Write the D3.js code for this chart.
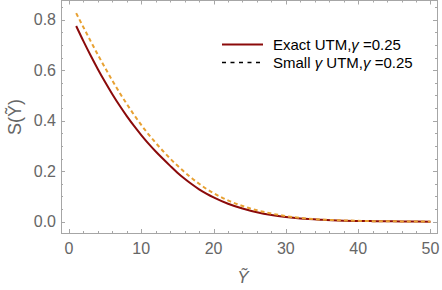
<!DOCTYPE html>
<html>
<head>
<meta charset="utf-8">
<script src="https://cdn.jsdelivr.net/npm/d3@7"></script>
<style>
  body { margin: 0; background: #fff; }
  text { font-family: "Liberation Sans", Arial, sans-serif; }
</style>
</head>
<body>
<div id="chart"></div>
<script>
// values
var yTilde = [1, 2, 3, 4, 5, 6, 7, 8, 9, 10, 11, 12, 13, 14, 15, 16, 17, 18, 19, 20, 22, 24, 26, 28, 30, 32, 35, 38, 42, 46, 50];
var exactUTM = [0.775, 0.715, 0.658, 0.604, 0.553, 0.505, 0.46, 0.418, 0.379, 0.343, 0.309, 0.278, 0.249, 0.221, 0.194, 0.17, 0.148, 0.128, 0.111, 0.096, 0.071, 0.052, 0.037, 0.026, 0.018, 0.012, 0.007, 0.004, 0.002, 0.001, 0.0];
var smallUTM = [0.826, 0.77, 0.715, 0.661, 0.609, 0.559, 0.511, 0.466, 0.423, 0.383, 0.346, 0.312, 0.28, 0.25, 0.222, 0.196, 0.172, 0.15, 0.13, 0.113, 0.084, 0.062, 0.045, 0.032, 0.022, 0.015, 0.008, 0.005, 0.002, 0.001, 0.0];
var xTicks = [0, 10, 20, 30, 40, 50];
var yTicks = [0, 0.2, 0.4, 0.6, 0.8];
var legendLabels = ["Exact UTM,", "Small "];

var W = 442, H = 290;
var frame = {left: 61, right: 437, top: 0.5, bottom: 233};

var svg = d3.select("#chart").append("svg")
  .attr("width", W)
  .attr("height", H);

var x = d3.scaleLinear().domain([-1.1, 50.9]).range([frame.left, frame.right]);
var y = d3.scaleLinear().domain([-0.045, 0.876]).range([frame.bottom, frame.top]);

var frameColor = "#a6a6a6", labelColor = "#666";

// frame
svg.append("rect")
  .attr("x", frame.left + 0.5)
  .attr("y", frame.top)
  .attr("width", frame.right - frame.left)
  .attr("height", frame.bottom - frame.top + 0.5)
  .attr("fill", "none")
  .attr("stroke", frameColor)
  .attr("stroke-width", 1);

// minor/major ticks on all sides
var xMinor = d3.range(0, 51, 2);
var yMinor = d3.range(0, 0.86, 0.05);

function tickX(vals, len) {
  svg.append("g").selectAll("line.b").data(vals).enter().append("line")
    .attr("x1", function(d) { return Math.round(x(d)) + 0.5; })
    .attr("x2", function(d) { return Math.round(x(d)) + 0.5; })
    .attr("y1", frame.bottom).attr("y2", frame.bottom - len)
    .attr("stroke", frameColor);
  svg.append("g").selectAll("line.t").data(vals).enter().append("line")
    .attr("x1", function(d) { return Math.round(x(d)) + 0.5; })
    .attr("x2", function(d) { return Math.round(x(d)) + 0.5; })
    .attr("y1", frame.top).attr("y2", frame.top + len)
    .attr("stroke", frameColor);
}
function tickY(vals, len) {
  svg.append("g").selectAll("line.l").data(vals).enter().append("line")
    .attr("y1", function(d) { return Math.round(y(d)) + 0.5; })
    .attr("y2", function(d) { return Math.round(y(d)) + 0.5; })
    .attr("x1", frame.left).attr("x2", frame.left + len)
    .attr("stroke", frameColor);
  svg.append("g").selectAll("line.r").data(vals).enter().append("line")
    .attr("y1", function(d) { return Math.round(y(d)) + 0.5; })
    .attr("y2", function(d) { return Math.round(y(d)) + 0.5; })
    .attr("x1", frame.right).attr("x2", frame.right - len)
    .attr("stroke", frameColor);
}
tickX(xMinor, 2);
tickX(xTicks, 4);
tickY(yMinor, 2);
tickY(yTicks, 4);

// tick labels
svg.append("g").selectAll("text").data(xTicks).enter().append("text")
  .attr("x", function(d) { return x(d); })
  .attr("y", 254)
  .attr("text-anchor", "middle")
  .attr("fill", labelColor)
  .style("font-size", "16px")
  .text(function(d) { return d; });

svg.append("g").selectAll("text").data(yTicks).enter().append("text")
  .attr("x", 56)
  .attr("y", function(d) { return y(d); })
  .attr("dy", "0.35em")
  .attr("text-anchor", "end")
  .attr("fill", labelColor)
  .style("font-size", "16px")
  .text(function(d) { return d.toFixed(1); });

// axis titles
svg.append("text")
  .attr("x", 243)
  .attr("y", 283)
  .attr("text-anchor", "middle")
  .attr("fill", labelColor)
  .style("font-size", "17px")
  .style("font-style", "italic")
  .text("\u1EF8");

svg.append("text")
  .attr("text-anchor", "middle")
  .attr("transform", "translate(21,117)rotate(-90)")
  .attr("fill", labelColor)
  .style("font-size", "18px")
  .text("S(\u1EF8)");

// curves
var line = d3.line()
  .x(function(d) { return x(d[0]); })
  .y(function(d) { return y(d[1]); })
  .curve(d3.curveMonotoneX);

svg.append("path")
  .datum(yTilde.map(function(v, i) { return [v, exactUTM[i]]; }))
  .attr("d", line)
  .attr("fill", "none")
  .attr("stroke", "#8b0a0a")
  .attr("stroke-width", 2);

svg.append("path")
  .datum(yTilde.map(function(v, i) { return [v, smallUTM[i]]; }))
  .attr("d", line)
  .attr("fill", "none")
  .attr("stroke", "#e8a132")
  .attr("stroke-width", 2)
  .attr("stroke-dasharray", "4,3");

// legend
var legend = svg.append("g").attr("transform", "translate(222,0)");
legend.append("line")
  .attr("x1", 0).attr("x2", 41).attr("y1", 44.5).attr("y2", 44.5)
  .attr("stroke", "#8b0a0a").attr("stroke-width", 2);
legend.append("line")
  .attr("x1", 0).attr("x2", 41).attr("y1", 62.5).attr("y2", 62.5)
  .attr("stroke", "#000").attr("stroke-width", 1.5)
  .attr("stroke-dasharray", "4,4.5");

var t1 = legend.append("text")
  .attr("x", 51).attr("y", 49.5)
  .attr("fill", "#000").style("font-size", "15px");
t1.append("tspan").text(legendLabels[0]);
t1.append("tspan").style("font-style", "italic").text("\u03B3");
t1.append("tspan").text(" =0.25");

var t2 = legend.append("text")
  .attr("x", 51).attr("y", 67.5)
  .attr("fill", "#000").style("font-size", "15px");
t2.append("tspan").text(legendLabels[1]);
t2.append("tspan").style("font-style", "italic").text("\u03B3");
t2.append("tspan").text(" UTM,");
t2.append("tspan").style("font-style", "italic").text("\u03B3");
t2.append("tspan").text(" =0.25");
</script>
</body>
</html>
